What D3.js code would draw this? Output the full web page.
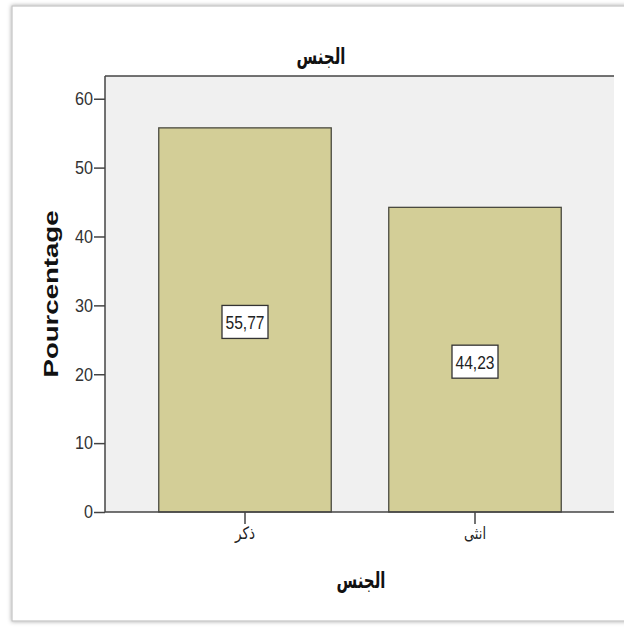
<!DOCTYPE html>
<html>
<head>
<meta charset="utf-8">
<script src="https://cdn.jsdelivr.net/npm/d3@7"></script>
<style>
  html, body { margin: 0; padding: 0; background: #ffffff; }
  svg { display: block; }
</style>
</head>
<body>
<svg id="chart" width="624" height="627"></svg>
<script>
// Gender distribution (percentages)
const categories = ["ذكر", "انثى"];
const percentages = [55.77, 44.23];
const valueLabels = ["55,77", "44,23"];
const yTicks = [0, 10, 20, 30, 40, 50, 60];
const chartTitle = "الجنس";
const xTitle = "الجنس";
const yTitle = "Pourcentage";

const svg = d3.select("#chart");
const W = 624, H = 627;

// Outer frame with soft shadow
const defs = svg.append("defs");
const f = defs.append("filter").attr("id", "shadow").attr("x", "-5%").attr("y", "-5%").attr("width", "110%").attr("height", "110%");
f.append("feGaussianBlur").attr("in", "SourceAlpha").attr("stdDeviation", 2);
f.append("feOffset").attr("dx", 0).attr("dy", 0).attr("result", "b");
f.append("feFlood").attr("flood-color", "#000").attr("flood-opacity", 0.35);
f.append("feComposite").attr("in2", "b").attr("operator", "in");
const m = f.append("feMerge");
m.append("feMergeNode");
m.append("feMergeNode").attr("in", "SourceGraphic");

svg.append("rect").attr("x", 0).attr("y", 0).attr("width", W).attr("height", H).attr("fill", "#ffffff");
svg.append("rect")
  .attr("x", 12).attr("y", 6).attr("width", 640).attr("height", 615)
  .attr("fill", "#ffffff").attr("stroke", "#c4c4c4").attr("stroke-width", 1.2)
  .attr("filter", "url(#shadow)");

// Plot area
const plot = { left: 105, top: 76, right: 614, bottom: 512 };

const y = d3.scaleLinear().domain([0, 63.3]).range([plot.bottom, plot.top]);
const x = d3.scaleBand().domain(categories)
  .range([plot.left + 25, plot.left + 25 + 2 * 230]).paddingInner(0.25).paddingOuter(0.125);

svg.append("rect")
  .attr("x", plot.left).attr("y", plot.top)
  .attr("width", plot.right - plot.left).attr("height", plot.bottom - plot.top)
  .attr("fill", "#f0f0f0");

// Bars
svg.append("g").selectAll("rect").data(categories).join("rect")
  .attr("x", d => x(d))
  .attr("y", (d, i) => y(percentages[i]))
  .attr("width", x.bandwidth())
  .attr("height", (d, i) => y(0) - y(percentages[i]))
  .attr("fill", "#d3ce97")
  .attr("stroke", "#4a4a40").attr("stroke-width", 1.3);

// Top edge of the plot frame
svg.append("line").attr("x1", plot.left).attr("x2", plot.right).attr("y1", plot.top).attr("y2", plot.top)
  .attr("stroke", "#444").attr("stroke-width", 1.5);

// Y axis
const yAxis = svg.append("g").attr("transform", `translate(${plot.left},0)`)
  .call(d3.axisLeft(y).tickValues(yTicks).tickSize(11).tickPadding(1).tickFormat(d3.format("d")));
yAxis.select(".domain").attr("d", `M0,${plot.top}V${plot.bottom}`).attr("stroke", "#444").attr("stroke-width", 1.5);
yAxis.selectAll(".tick line").attr("stroke", "#444").attr("stroke-width", 1.5);
yAxis.selectAll(".tick text")
  .attr("font-family", "'Liberation Sans', Arial, sans-serif")
  .attr("font-size", 18).attr("fill", "#333")
  .attr("textLength", d => String(d).length * 9)
  .attr("lengthAdjust", "spacingAndGlyphs");

// X axis
const xAxis = svg.append("g").attr("transform", `translate(0,${plot.bottom})`)
  .call(d3.axisBottom(x).tickSize(12).tickPadding(3));
xAxis.select(".domain").attr("d", `M${plot.left},0H${plot.right}`).attr("stroke", "#444").attr("stroke-width", 1.5);
xAxis.selectAll(".tick line").attr("stroke", "#444").attr("stroke-width", 1.5);
xAxis.selectAll(".tick text")
  .attr("font-family", "'DejaVu Sans', 'Noto Sans', sans-serif")
  .attr("font-size", 17).attr("fill", "#222")
  .attr("textLength", (d, i) => (i === 0 ? 20 : 22))
  .attr("lengthAdjust", "spacingAndGlyphs");

// Value labels in boxes at bar middles
const lab = svg.append("g").selectAll("g").data(categories).join("g")
  .attr("transform", (d, i) => `translate(${x(d) + x.bandwidth() / 2},${(y(percentages[i]) + y(0)) / 2 + 2})`);
lab.append("rect")
  .attr("x", -23).attr("y", -16.5).attr("width", 46).attr("height", 33)
  .attr("fill", "#ffffff").attr("stroke", "#333").attr("stroke-width", 1.3);
lab.append("text")
  .attr("text-anchor", "middle").attr("dy", "0.36em")
  .attr("font-family", "'Liberation Sans', Arial, sans-serif")
  .attr("font-size", 19).attr("fill", "#222")
  .attr("textLength", 39).attr("lengthAdjust", "spacingAndGlyphs")
  .text((d, i) => valueLabels[i]);

// Titles
svg.append("text")
  .attr("x", 321).attr("y", 64).attr("text-anchor", "middle")
  .attr("font-family", "'DejaVu Sans', 'Noto Sans', sans-serif")
  .attr("font-size", 22).attr("font-weight", "bold").attr("fill", "#111")
  .attr("textLength", 49).attr("lengthAdjust", "spacingAndGlyphs")
  .text(chartTitle);

svg.append("text")
  .attr("x", 361).attr("y", 588).attr("text-anchor", "middle")
  .attr("font-family", "'DejaVu Sans', 'Noto Sans', sans-serif")
  .attr("font-size", 22).attr("font-weight", "bold").attr("fill", "#111")
  .attr("textLength", 49).attr("lengthAdjust", "spacingAndGlyphs")
  .text(xTitle);

svg.append("text")
  .attr("transform", `translate(58,${(plot.top + plot.bottom) / 2}) rotate(-90)`)
  .attr("text-anchor", "middle")
  .attr("font-family", "'Liberation Sans', Arial, sans-serif")
  .attr("font-size", 21).attr("font-weight", "bold").attr("fill", "#111")
  .attr("textLength", 167).attr("lengthAdjust", "spacingAndGlyphs")
  .text(yTitle);
</script>
</body>
</html>
